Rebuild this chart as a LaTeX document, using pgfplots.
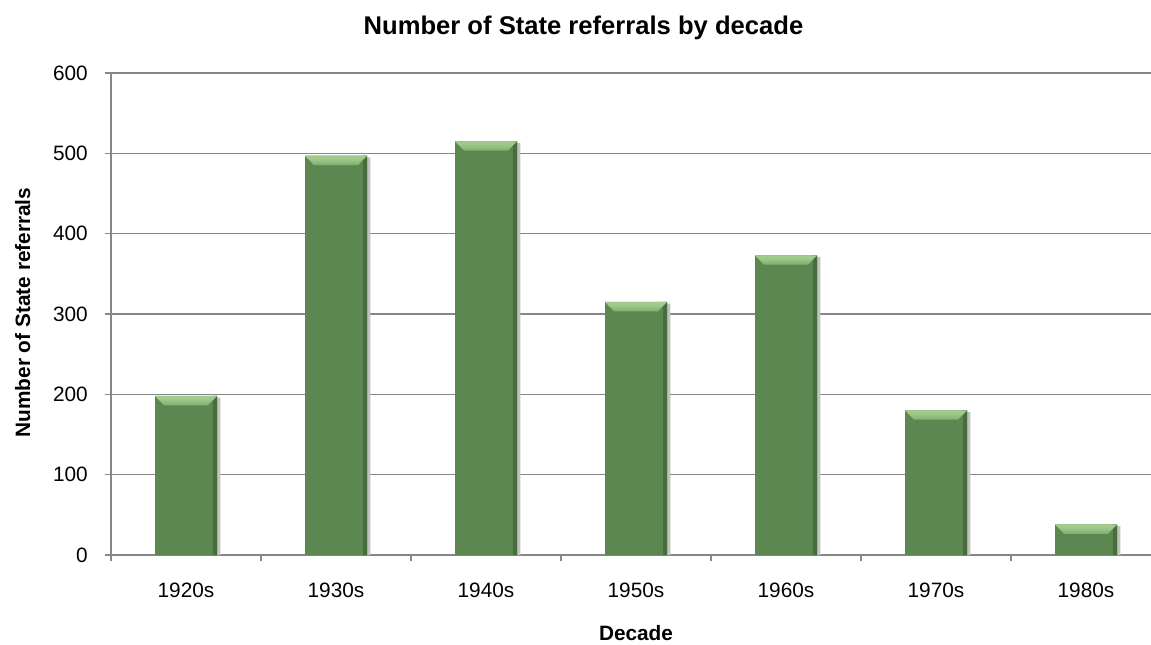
\documentclass[border=0pt]{standalone}
\usepackage{fontspec}
\setmainfont{Liberation Sans}
\usepackage{pgfplots}
\pgfplotsset{compat=1.18}
\definecolor{axisgray}{RGB}{134,134,134}
\definecolor{barG}{RGB}{93,135,80}
\definecolor{barD}{RGB}{72,108,62}
\definecolor{capT}{RGB}{170,212,150}
\definecolor{capB}{RGB}{108,156,92}
\definecolor{shadowG}{RGB}{190,196,188}
\pgfdeclareverticalshading{capshade}{100bp}{color(0bp)=(capB); color(60bp)=(capT!80!capB); color(100bp)=(capT)}
\pgfdeclareplotmark{bevel}{%
  \pgfpathmoveto{\pgfpoint{-23.25pt}{0pt}}%
  \pgfpathlineto{\pgfpoint{23.25pt}{0pt}}%
  \pgfpathlineto{\pgfpoint{16.5pt}{-7pt}}%
  \pgfpathlineto{\pgfpoint{-16.5pt}{-7pt}}%
  \pgfpathclose
  \pgfshadepath{capshade}{0}%
  \pgfusepath{discard}%
}
\begin{document}
\begin{tikzpicture}
\useasboundingbox (0,0) rectangle (863.25pt,483pt);
\begin{axis}[
  at={(83.25pt,66.75pt)}, anchor=south west,
  scale only axis,
  width=787.5pt, height=361.5pt,
  xmin=-0.5, xmax=6.5,
  ymin=0, ymax=600,
  ytick={0,100,...,600},
  axis x line=bottom, axis y line=left,
  axis line style={-, draw=axisgray, line width=1.3pt},
  ymajorgrids,
  grid style={draw=axisgray, line width=1.1pt},
  tick align=outside,
  major tick length=4.5pt,
  tick style={draw=axisgray, line width=1.1pt},
  xtick={-0.5,0.5,...,6.5},
  xticklabels={},
  extra x ticks={0,1,2,3,4,5,6},
  extra x tick labels={1920s,1930s,1940s,1950s,1960s,1970s,1980s},
  extra x tick style={major tick length=0pt},
  /pgf/number format/assume math mode=true,
  tick label style={font=\fontsize{15.6}{18}\selectfont, text=black},
  yticklabel style={anchor=east, inner sep=0pt, xshift=-17.25pt+4.5pt},
  xticklabel style={anchor=base, inner sep=0pt, yshift=-31.5pt},
  clip=false,
]
\addplot[ybar, bar width=2.5pt, bar shift=24.6pt, fill=shadowG, draw=none]
  coordinates {(0,196) (1,495) (2,513) (3,313) (4,371) (5,178) (6,36)};
\addplot[ybar, bar width=46.5pt, bar shift=0pt, fill=barG, draw=none]
  coordinates {(0,198) (1,497) (2,515) (3,315) (4,373) (5,180) (6,38)};
\addplot[ybar, bar width=3pt, bar shift=21.75pt, fill=barD, draw=none]
  coordinates {(0,198) (1,497) (2,515) (3,315) (4,373) (5,180) (6,38)};
\addplot[only marks, mark=bevel]
  coordinates {(0,198) (1,497) (2,515) (3,315) (4,373) (5,180) (6,38)};
\end{axis}
\node[anchor=base, font=\fontsize{19.2}{22}\selectfont\bfseries] at (437.6pt,456.75pt) {Number of State referrals by decade};
\node[anchor=base, rotate=90, font=\fontsize{15.6}{18}\selectfont\bfseries] at (22.5pt,248.6pt) {Number of State referrals};
\node[anchor=base, font=\fontsize{15.6}{18}\selectfont\bfseries] at (477pt,3pt) {Decade};
\end{tikzpicture}
\end{document}
